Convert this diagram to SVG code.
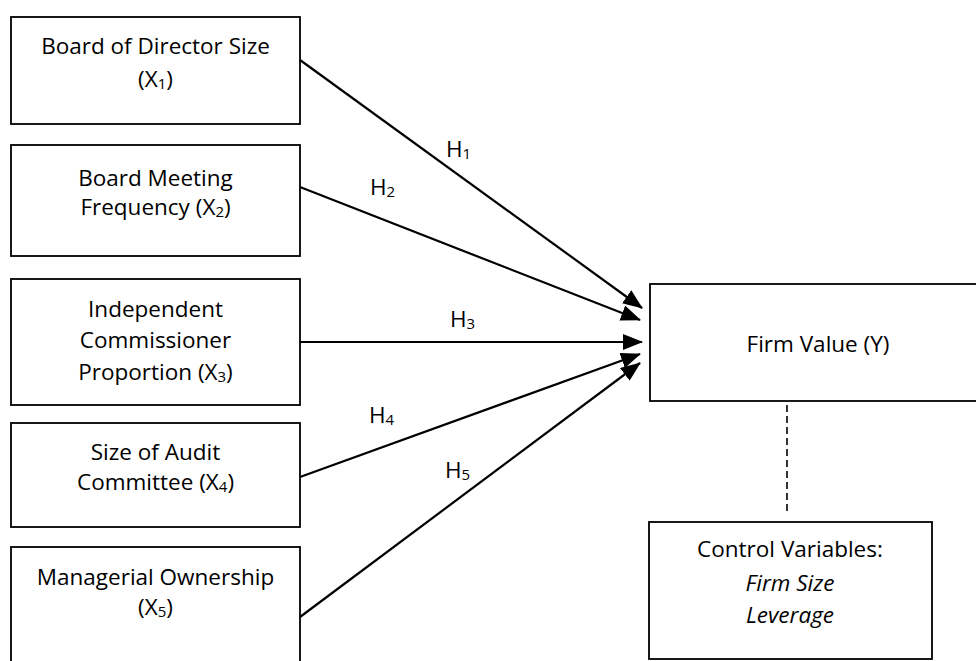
<svg xmlns="http://www.w3.org/2000/svg" width="976" height="661" viewBox="0 0 976 661">
<style>
.box{fill:#fff;stroke:#000;stroke-width:1.8}
.t{font-family:"Open Sans",Lato,sans-serif;font-size:22.5px;fill:#000;text-anchor:middle}
.l{font-family:"Open Sans",Lato,sans-serif;font-size:22.5px;fill:#000}
.s{font-size:15px}
.e{stroke:#000;stroke-width:2.2;fill:none}
</style>
<defs>
<marker id="ah" viewBox="0 0 20 16" refX="19" refY="8" markerWidth="20" markerHeight="16" markerUnits="userSpaceOnUse" orient="auto">
<path d="M0,0 L20,8 L0,16 Z" fill="#000"/>
</marker>
</defs>
<rect width="976" height="661" fill="#fff"/>
<g id="n1"><rect class="box" x="11" y="17" width="289" height="107"/>
<text class="t" x="155.5" y="54">Board of Director Size</text>
<text class="t" x="155.5" y="87">(X<tspan class="s" dy="2">1</tspan><tspan dy="-2">)</tspan></text></g>
<g id="n2"><rect class="box" x="11" y="145" width="289" height="111"/>
<text class="t" x="155.5" y="186">Board Meeting</text>
<text class="t" x="155.5" y="215">Frequency (X<tspan class="s" dy="2">2</tspan><tspan dy="-2">)</tspan></text></g>
<g id="n3"><rect class="box" x="11" y="279" width="289" height="126"/>
<text class="t" x="155.5" y="317">Independent</text>
<text class="t" x="155.5" y="348">Commissioner</text>
<text class="t" x="155.5" y="380">Proportion (X<tspan class="s" dy="2">3</tspan><tspan dy="-2">)</tspan></text></g>
<g id="n4"><rect class="box" x="11" y="423" width="289" height="104"/>
<text class="t" x="155.5" y="460">Size of Audit</text>
<text class="t" x="155.5" y="490">Committee (X<tspan class="s" dy="2">4</tspan><tspan dy="-2">)</tspan></text></g>
<g id="n5"><rect class="box" x="11" y="547" width="289" height="130"/>
<text class="t" x="155.5" y="585">Managerial Ownership</text>
<text class="t" x="155.5" y="615">(X<tspan class="s" dy="2">5</tspan><tspan dy="-2">)</tspan></text></g>
<g id="y"><rect class="box" x="650" y="284" width="340" height="117"/>
<text class="t" x="818" y="352">Firm Value (Y)</text></g>
<g id="c"><rect class="box" x="649" y="522" width="283" height="137"/>
<text class="t" x="790" y="557">Control Variables:</text>
<text class="t" x="790" y="591" font-style="italic">Firm Size</text>
<text class="t" x="790" y="623" font-style="italic">Leverage</text></g>
<g id="edges">
<line class="e" x1="300" y1="60" x2="642" y2="308" marker-end="url(#ah)"/>
<line class="e" x1="300" y1="187" x2="640" y2="320" marker-end="url(#ah)"/>
<line class="e" x1="300" y1="342" x2="642" y2="342" marker-end="url(#ah)"/>
<line class="e" x1="300" y1="477" x2="640" y2="354" marker-end="url(#ah)"/>
<line class="e" x1="300" y1="617" x2="640" y2="363" marker-end="url(#ah)"/>
<line x1="787" y1="405" x2="787" y2="513" stroke="#000" stroke-width="1.6" stroke-dasharray="7,4"/>
</g>
<g id="labels">
<text class="l" x="446" y="157">H<tspan class="s" dy="2">1</tspan></text>
<text class="l" x="370" y="195">H<tspan class="s" dy="2">2</tspan></text>
<text class="l" x="450" y="327">H<tspan class="s" dy="2">3</tspan></text>
<text class="l" x="369" y="423">H<tspan class="s" dy="2">4</tspan></text>
<text class="l" x="445" y="478">H<tspan class="s" dy="2">5</tspan></text>
</g>
</svg>
